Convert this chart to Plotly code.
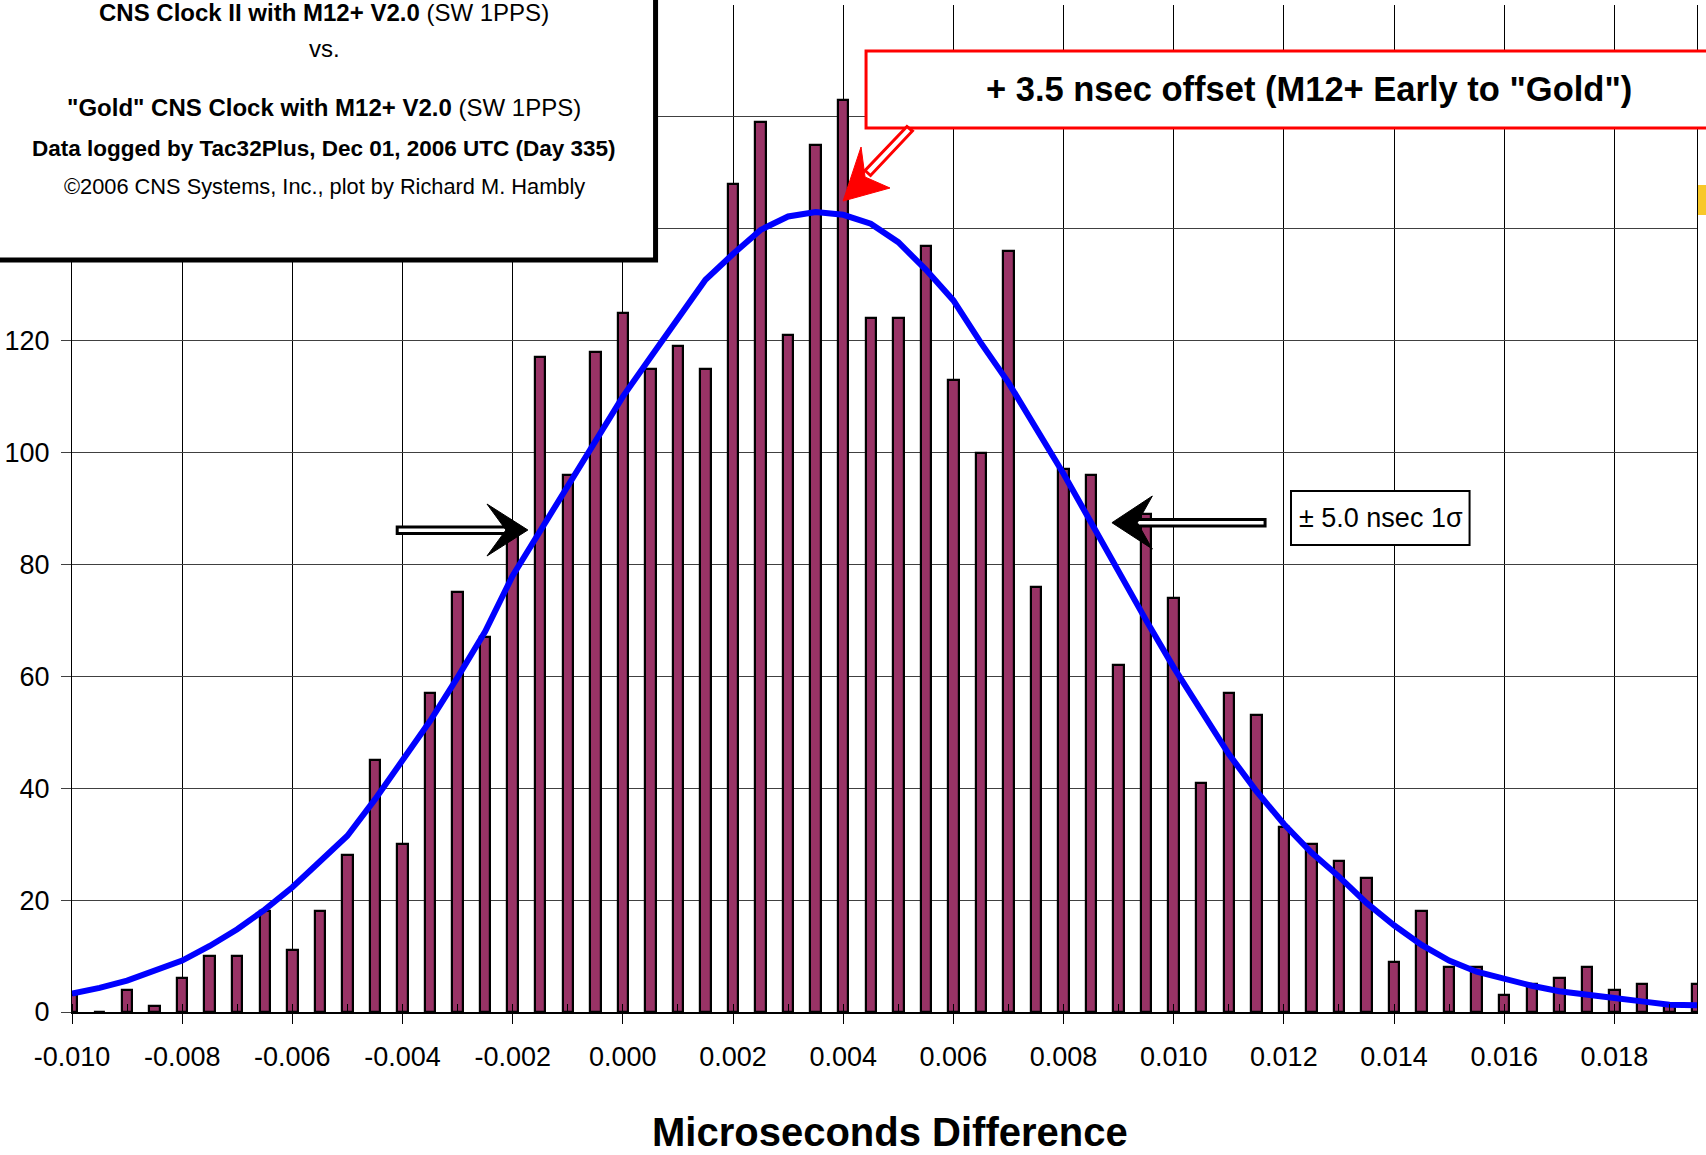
import plotly.graph_objects as go

# ---------------- data ----------------
bin_centers = [-0.0100, -0.0095, -0.0090, -0.0085, -0.0080, -0.0075, -0.0070, -0.0065, -0.0060, -0.0055,
               -0.0050, -0.0045, -0.0040, -0.0035, -0.0030, -0.0025, -0.0020, -0.0015, -0.0010, -0.0005,
               0.0000, 0.0005, 0.0010, 0.0015, 0.0020, 0.0025, 0.0030, 0.0035, 0.0040, 0.0045,
               0.0050, 0.0055, 0.0060, 0.0065, 0.0070, 0.0075, 0.0080, 0.0085, 0.0090, 0.0095,
               0.0100, 0.0105, 0.0110, 0.0115, 0.0120, 0.0125, 0.0130, 0.0135, 0.0140, 0.0145,
               0.0150, 0.0155, 0.0160, 0.0165, 0.0170, 0.0175, 0.0180, 0.0185, 0.0190, 0.0195]

counts = [3, 0, 4, 1, 6, 10, 10, 18, 11, 18,
          28, 45, 30, 57, 75, 67, 86, 117, 96, 118,
          125, 115, 119, 115, 148, 159, 121, 155, 163, 124,
          124, 137, 113, 100, 136, 76, 97, 96, 62, 89,
          74, 41, 57, 53, 33, 30, 27, 24, 9, 18,
          8, 8, 3, 5, 6, 8, 4, 5, 1, 5]

normal_fit = [3.3, 4.3, 5.6, 7.3, 9.2, 11.8, 14.8, 18.3, 22.3, 26.9,
              31.5, 38.0, 44.8, 52.0, 59.8, 68.0, 78.0, 86.0, 94.0, 102.0,
              110.0, 117.0, 124.0, 130.9, 135.5, 139.8, 142.2, 143.0, 142.5, 140.9,
              137.6, 132.7, 127.2, 119.6, 112.5, 104.5, 96.2, 87.5, 78.5, 70.0,
              61.6, 53.8, 46.1, 39.5, 33.6, 28.5, 24.2, 19.5, 15.5, 12.0,
              9.2, 7.2, 5.9, 4.7, 3.7, 3.0, 2.5, 1.9, 1.3, 1.2]

x_tick_vals = [-0.010, -0.008, -0.006, -0.004, -0.002, 0.000, 0.002, 0.004, 0.006, 0.008,
               0.010, 0.012, 0.014, 0.016, 0.018]
x_tick_text = ["-0.010", "-0.008", "-0.006", "-0.004", "-0.002", "0.000", "0.002", "0.004",
               "0.006", "0.008", "0.010", "0.012", "0.014", "0.016", "0.018"]
y_tick_vals = [0, 20, 40, 60, 80, 100, 120, 140, 160, 180]
y_tick_text = ["0", "20", "40", "60", "80", "100", "120", "", "", ""]

title_lines = [
    "<b>CNS Clock II with M12+ V2.0</b> (SW 1PPS)",
    "vs.",
    "<b>\"Gold\" CNS Clock with M12+ V2.0</b> (SW 1PPS)",
    "<b>Data logged by Tac32Plus, Dec 01, 2006 UTC (Day 335)</b>",
    "\u00a92006 CNS Systems, Inc., plot by Richard M. Hambly",
]
offset_text = "<b>+ 3.5 nsec offset (M12+ Early to \"Gold\")</b>"
sigma_text = "\u00b1 5.0 nsec 1\u03c3"
x_title = "<b>Microseconds Difference</b>"

# ---------------- layout geometry (pixels) ----------------
W, H = 1706, 1155
ML, MR, MT, MB = 68, 9, 5, 143
PW = W - ML - MR
PH = H - MT - MB

def px(x):
    return (x - ML) / PW

def py(y):
    return 1 - (y - MT) / PH

FONT = "Liberation Sans, Arial, Helvetica, sans-serif"

fig = go.Figure()
fig.add_trace(go.Bar(
    x=bin_centers, y=counts, width=0.00019,
    marker=dict(color="#993366", line=dict(color="black", width=2.2)),
    hoverinfo="x+y",
))
fig.add_trace(go.Scatter(
    x=bin_centers, y=normal_fit, mode="lines",
    line=dict(color="#0000FF", width=6),
    hoverinfo="x+y",
))

shapes = []
# title box
shapes.append(dict(type="rect", xref="paper", yref="paper",
                   x0=px(-20), x1=px(653), y0=py(-20), y1=py(260),
                   line=dict(color="black", width=5), fillcolor="white", layer="above"))
# red offset box
shapes.append(dict(type="rect", xref="paper", yref="paper",
                   x0=px(864), x1=px(1730), y0=py(51), y1=py(128),
                   line=dict(color="#FF0000", width=3), fillcolor="white", layer="above"))
# red arrow shaft (hollow)
shapes.append(dict(type="path", xref="paper", yref="paper",
                   path="M {} {} L {} {} L {} {} L {} {} Z".format(
                       px(910.5), py(131), px(905), py(126.5), px(863), py(170.5), px(868.5), py(175.5)),
                   line=dict(color="#FF0000", width=3), fillcolor="white", layer="above"))
# red arrow head
shapes.append(dict(type="path", xref="paper", yref="paper",
                   path="M {} {} L {} {} L {} {} L {} {} Z".format(
                       px(841), py(201), px(859), py(147), px(863), py(177), px(888), py(188)),
                   line=dict(color="#FF0000", width=1), fillcolor="#FF0000", layer="above"))
# sigma box
shapes.append(dict(type="rect", xref="paper", yref="paper",
                   x0=px(1290), x1=px(1469), y0=py(491), y1=py(545),
                   line=dict(color="black", width=2), fillcolor="white", layer="above"))
# left black arrow (double-line shaft + head)
shapes.append(dict(type="rect", xref="paper", yref="paper",
                   x0=px(394), x1=px(506), y0=py(527), y1=py(533.5),
                   line=dict(color="black", width=3), fillcolor="white", layer="above"))
shapes.append(dict(type="path", xref="paper", yref="paper",
                   path="M {} {} L {} {} L {} {} L {} {} Z".format(
                       px(525), py(530), px(484), py(504), px(503), py(530), px(484), py(556)),
                   line=dict(color="black", width=1), fillcolor="black", layer="above"))
# right black arrow
shapes.append(dict(type="rect", xref="paper", yref="paper",
                   x0=px(1133), x1=px(1264), y0=py(519.5), y1=py(526),
                   line=dict(color="black", width=3), fillcolor="white", layer="above"))
shapes.append(dict(type="path", xref="paper", yref="paper",
                   path="M {} {} L {} {} L {} {} L {} {} Z".format(
                       px(1110.5), py(522.7), px(1151), py(496), px(1136), py(522.7), px(1151), py(549)),
                   line=dict(color="black", width=1), fillcolor="black", layer="above"))
# small yellow object at the right edge
shapes.append(dict(type="rect", xref="paper", yref="paper",
                   x0=px(1698), x1=px(1712), y0=py(185), y1=py(215),
                   line=dict(width=0), fillcolor="#F8C829", layer="above"))

annotations = []
line_y = [13, 49, 107, 149, 187]
line_size = [24, 24, 24, 22.5, 21.8]
for t, yy, s in zip(title_lines, line_y, line_size):
    annotations.append(dict(text=t, xref="paper", yref="paper", x=px(321), y=py(yy),
                            xanchor="center", yanchor="middle", showarrow=False,
                            font=dict(family=FONT, size=s, color="black")))
annotations.append(dict(text=offset_text, xref="paper", yref="paper", x=px(1308), y=py(89),
                        xanchor="center", yanchor="middle", showarrow=False,
                        font=dict(family=FONT, size=34.5, color="black")))
annotations.append(dict(text=sigma_text, xref="paper", yref="paper", x=px(1380), y=py(518),
                        xanchor="center", yanchor="middle", showarrow=False,
                        font=dict(family=FONT, size=27, color="black")))
annotations.append(dict(text=x_title, xref="paper", yref="paper", x=px(888), y=py(1132),
                        xanchor="center", yanchor="middle", showarrow=False,
                        font=dict(family=FONT, size=40, color="black")))

fig.update_layout(
    width=W, height=H,
    margin=dict(l=ML, r=MR, t=MT, b=MB, pad=0),
    paper_bgcolor="white", plot_bgcolor="white",
    showlegend=False, bargap=0,
    shapes=shapes, annotations=annotations,
    font=dict(family=FONT, color="black"),
    xaxis=dict(range=[-0.010, 0.0195], tickvals=x_tick_vals, ticktext=x_tick_text,
               showgrid=True, gridcolor="black", gridwidth=1, zeroline=False,
               showline=True, linecolor="black", linewidth=2, mirror=False,
               ticks="outside", ticklen=10, tickcolor="black", tickwidth=1,
               ticklabelstandoff=10,
               minor=dict(dtick=0.001, tick0=-0.010, ticks="inside", ticklen=8,
                          tickcolor="black", showgrid=False),
               tickfont=dict(family=FONT, size=27, color="black")),
    yaxis=dict(range=[0, 180], tickvals=y_tick_vals, ticktext=y_tick_text,
               showgrid=True, gridcolor="#404040", gridwidth=1, zeroline=False,
               showline=True, linecolor="black", linewidth=1, mirror=True,
               ticks="outside", ticklen=10, tickcolor="#404040", tickwidth=1,
               ticklabelstandoff=6,
               tickfont=dict(family=FONT, size=27, color="black")),
)

fig.write_html("out.html")
